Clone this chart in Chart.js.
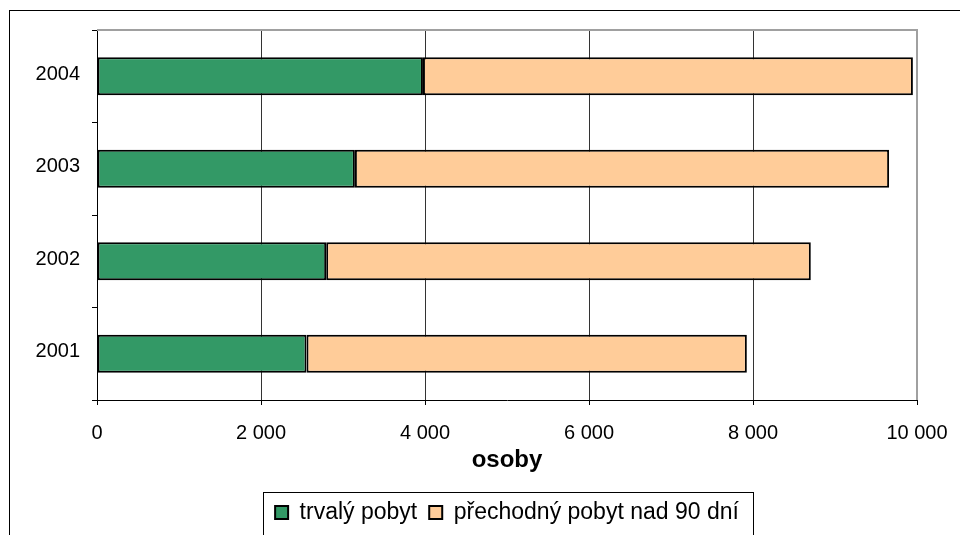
<!DOCTYPE html>
<html lang="cs">
<head>
<meta charset="UTF-8">
<title>trvalý a přechodný pobyt</title>
<script src="https://cdn.jsdelivr.net/npm/chart.js"></script>
<style>
  body { margin: 0; background: #fff; }
  #wrap { position: relative; width: 960px; height: 535px; }
</style>
</head>
<body>
<div id="wrap"><canvas id="myChart" width="960" height="535"></canvas></div>
<script>
    // data (persons)
    const years = ['2001', '2002', '2003', '2004'];
    const trvaly = [2555, 2795, 3145, 3975];
    const prechodny = [5370, 5910, 6515, 5975];
    const seriesNames = ['trvalý pobyt', 'přechodný pobyt nad 90 dní'];
    const axisTitle = 'osoby';

    const FONT = "'Liberation Sans', Arial, sans-serif";

    function fmt(v) {
        return String(v).replace(/\B(?=(\d{3})+(?!\d))/g, ' ');
    }

    // outer frame, plot frame, legend box
    const frames = {
        id: 'frames',
        beforeDraw(chart) {
            const ctx = chart.ctx;
            ctx.save();
            ctx.strokeStyle = '#000';
            ctx.lineWidth = 1;
            ctx.strokeRect(9.5, 10.5, 2000, 2000);
            ctx.restore();
        },
        beforeDatasetsDraw(chart) {
            const a = chart.chartArea;
            const ctx = chart.ctx;
            ctx.save();
            ctx.strokeStyle = '#a0a0a0';
            ctx.lineWidth = 2;
            ctx.beginPath();
            ctx.moveTo(a.left, a.top);
            ctx.lineTo(a.right, a.top);
            ctx.lineTo(a.right, a.bottom);
            ctx.stroke();
            ctx.restore();
        },
        afterDraw(chart) {
            const hb = chart.legend.legendHitBoxes;
            if (!hb || !hb.length) return;
            const last = hb[hb.length - 1];
            const l = Math.round(hb[0].left - 12);
            const r = Math.round(last.left + last.width + 14);
            const cy = Math.round(hb[0].top + hb[0].height / 2);
            const ctx = chart.ctx;
            ctx.save();
            ctx.strokeStyle = '#000';
            ctx.lineWidth = 1;
            ctx.strokeRect(l + 0.5, cy - 20.5, r - l, 43);
            ctx.restore();
        }
    };

    const ctx = document.getElementById('myChart').getContext('2d');
    const myChart = new Chart(ctx, {
        type: 'bar',
        data: {
            labels: years,
            datasets: [{
                label: seriesNames[0],
                data: trvaly,
                backgroundColor: '#339966',
                borderColor: '#000',
                borderWidth: 2,
                borderSkipped: false
            }, {
                label: seriesNames[1],
                data: prechodny,
                backgroundColor: '#FFCC99',
                borderColor: '#000',
                borderWidth: 2,
                borderSkipped: false
            }]
        },
        plugins: [frames],
        options: {
            indexAxis: 'y',
            responsive: false,
            animation: false,
            devicePixelRatio: 1,
            barPercentage: 0.413,
            categoryPercentage: 1,
            layout: { padding: { top: 30, right: 43, left: 0, bottom: 1 } },
            plugins: {
                tooltip: { enabled: false },
                legend: {
                    position: 'bottom',
                    fullSize: false,
                    labels: {
                        color: '#000',
                        boxWidth: 13,
                        boxHeight: 13,
                        padding: 12,
                        font: { family: FONT, size: 23 }
                    }
                }
            },
            scales: {
                x: {
                    stacked: true,
                    min: 0,
                    max: 10000,
                    ticks: {
                        stepSize: 2000,
                        color: '#000',
                        padding: 16,
                        maxRotation: 0,
                        font: { family: FONT, size: 20 },
                        callback: v => fmt(v)
                    },
                    grid: {
                        color: c => (c.tick && c.tick.value === 10000) ? 'rgba(0,0,0,0)' : '#333',
                        tickColor: '#000',
                        tickLength: 5,
                        lineWidth: 1
                    },
                    border: { color: '#000', width: 1 },
                    title: {
                        display: true,
                        text: axisTitle,
                        color: '#000',
                        font: { family: FONT, size: 24, weight: 'bold' },
                        padding: { top: 0, bottom: 14 }
                    },
                    afterFit: s => {
                        s.height = 89;
                        s.paddingLeft = 0;
                        s.paddingRight = 0;
                    }
                },
                y: {
                    stacked: true,
                    reverse: true,
                    ticks: {
                        color: '#000',
                        padding: 12,
                        labelOffset: -2,
                        font: { family: FONT, size: 20 }
                    },
                    grid: {
                        drawOnChartArea: false,
                        tickColor: '#000',
                        tickLength: 5
                    },
                    border: { color: '#000', width: 1 },
                    afterFit: s => { s.width = 97; }
                }
            }
        }
    });
</script>
</body>
</html>
